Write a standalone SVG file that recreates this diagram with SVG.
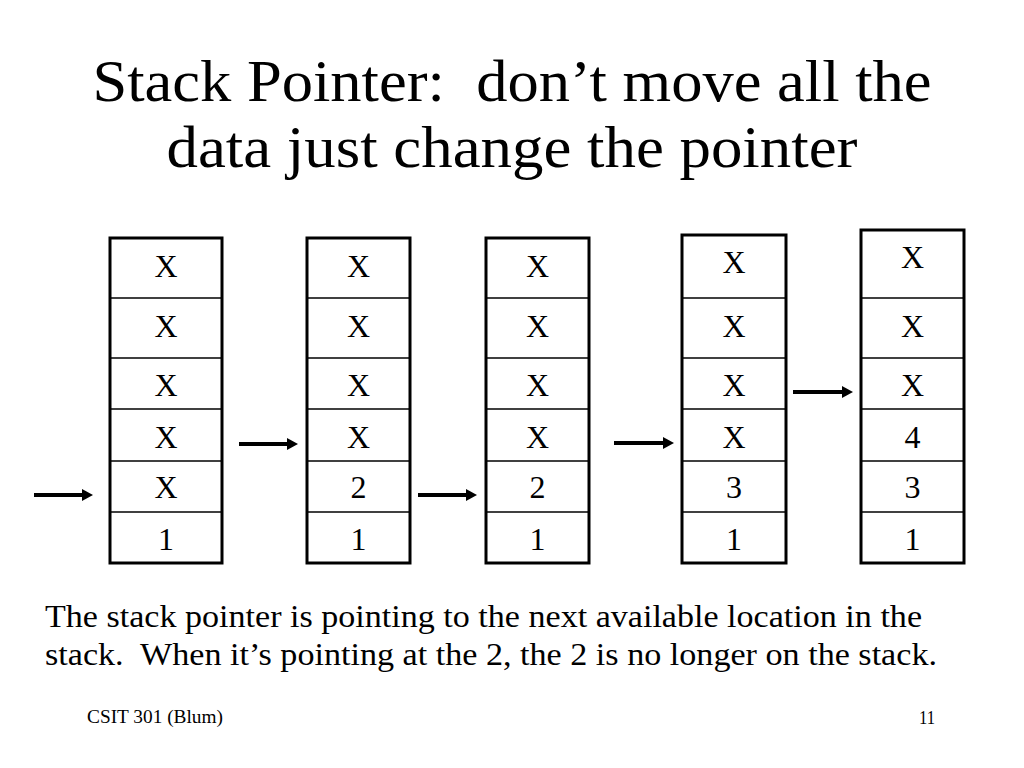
<svg xmlns="http://www.w3.org/2000/svg" width="1024" height="768" viewBox="0 0 1024 768">
<style>
text{font-family:"Liberation Serif","Times New Roman",serif;fill:#000;white-space:pre}
.title{font-size:59px;text-anchor:middle}
.cell{font-size:32px;text-anchor:middle}
.body{font-size:32px}
.foot{font-size:18px}
.box{fill:#fff;stroke:#000;stroke-width:3}
.div{stroke:#000;stroke-width:1.5}
.arr{stroke:#000;stroke-width:4;fill:none;marker-end:url(#ah)}
</style>
<defs>
<marker id="ah" markerUnits="userSpaceOnUse" markerWidth="12" markerHeight="14" refX="0" refY="6" orient="auto" viewBox="0 0 12 12">
<path d="M0,0 L11,6 L0,12 Z" fill="#000"/>
</marker>
</defs>
<rect width="1024" height="768" fill="#fff"/>
<text class="title" x="512" y="101" textLength="839" lengthAdjust="spacingAndGlyphs">Stack Pointer:  don’t move all the</text>
<text class="title" x="512" y="167" textLength="691" lengthAdjust="spacingAndGlyphs">data just change the pointer</text>

<g id="stack1">
<rect class="box" x="110" y="238" width="112" height="325"/>
<line class="div" x1="110" y1="298" x2="222" y2="298"/>
<line class="div" x1="110" y1="358" x2="222" y2="358"/>
<line class="div" x1="110" y1="409" x2="222" y2="409"/>
<line class="div" x1="110" y1="461" x2="222" y2="461"/>
<line class="div" x1="110" y1="512" x2="222" y2="512"/>
<text class="cell" x="166" y="277">X</text>
<text class="cell" x="166" y="337">X</text>
<text class="cell" x="166" y="396">X</text>
<text class="cell" x="166" y="448">X</text>
<text class="cell" x="166" y="498">X</text>
<text class="cell" x="166" y="550">1</text>
</g>

<g id="stack2">
<rect class="box" x="307" y="238" width="103" height="325"/>
<line class="div" x1="307" y1="298" x2="410" y2="298"/>
<line class="div" x1="307" y1="358" x2="410" y2="358"/>
<line class="div" x1="307" y1="409" x2="410" y2="409"/>
<line class="div" x1="307" y1="461" x2="410" y2="461"/>
<line class="div" x1="307" y1="512" x2="410" y2="512"/>
<text class="cell" x="358.5" y="277">X</text>
<text class="cell" x="358.5" y="337">X</text>
<text class="cell" x="358.5" y="396">X</text>
<text class="cell" x="358.5" y="448">X</text>
<text class="cell" x="358.5" y="498">2</text>
<text class="cell" x="358.5" y="550">1</text>
</g>

<g id="stack3">
<rect class="box" x="486" y="238" width="103" height="325"/>
<line class="div" x1="486" y1="298" x2="589" y2="298"/>
<line class="div" x1="486" y1="358" x2="589" y2="358"/>
<line class="div" x1="486" y1="409" x2="589" y2="409"/>
<line class="div" x1="486" y1="461" x2="589" y2="461"/>
<line class="div" x1="486" y1="512" x2="589" y2="512"/>
<text class="cell" x="537.5" y="277">X</text>
<text class="cell" x="537.5" y="337">X</text>
<text class="cell" x="537.5" y="396">X</text>
<text class="cell" x="537.5" y="448">X</text>
<text class="cell" x="537.5" y="498">2</text>
<text class="cell" x="537.5" y="550">1</text>
</g>

<g id="stack4">
<rect class="box" x="682" y="235" width="104" height="328"/>
<line class="div" x1="682" y1="298" x2="786" y2="298"/>
<line class="div" x1="682" y1="358" x2="786" y2="358"/>
<line class="div" x1="682" y1="409" x2="786" y2="409"/>
<line class="div" x1="682" y1="461" x2="786" y2="461"/>
<line class="div" x1="682" y1="512" x2="786" y2="512"/>
<text class="cell" x="734" y="273">X</text>
<text class="cell" x="734" y="337">X</text>
<text class="cell" x="734" y="396">X</text>
<text class="cell" x="734" y="448">X</text>
<text class="cell" x="734" y="498">3</text>
<text class="cell" x="734" y="550">1</text>
</g>

<g id="stack5">
<rect class="box" x="861" y="230" width="103" height="333"/>
<line class="div" x1="861" y1="298" x2="964" y2="298"/>
<line class="div" x1="861" y1="358" x2="964" y2="358"/>
<line class="div" x1="861" y1="409" x2="964" y2="409"/>
<line class="div" x1="861" y1="461" x2="964" y2="461"/>
<line class="div" x1="861" y1="512" x2="964" y2="512"/>
<text class="cell" x="912.5" y="268">X</text>
<text class="cell" x="912.5" y="337">X</text>
<text class="cell" x="912.5" y="396">X</text>
<text class="cell" x="912.5" y="448">4</text>
<text class="cell" x="912.5" y="498">3</text>
<text class="cell" x="912.5" y="550">1</text>
</g>

<g id="connectors">
<line class="arr" x1="34" y1="495" x2="82" y2="495"/>
<line class="arr" x1="239" y1="444" x2="287" y2="444"/>
<line class="arr" x1="418" y1="495" x2="466" y2="495"/>
<line class="arr" x1="614" y1="443" x2="663" y2="443"/>
<line class="arr" x1="793" y1="392" x2="842" y2="392"/>
</g>

<text class="body" x="45" y="627" textLength="877" lengthAdjust="spacingAndGlyphs">The stack pointer is pointing to the next available location in the</text>
<text class="body" x="45" y="665" textLength="892" lengthAdjust="spacingAndGlyphs">stack.  When it’s pointing at the 2, the 2 is no longer on the stack.</text>
<text class="foot" x="87" y="723" textLength="136" lengthAdjust="spacingAndGlyphs">CSIT 301 (Blum)</text>
<text class="foot" x="919" y="724" textLength="16" lengthAdjust="spacingAndGlyphs">11</text>
</svg>
